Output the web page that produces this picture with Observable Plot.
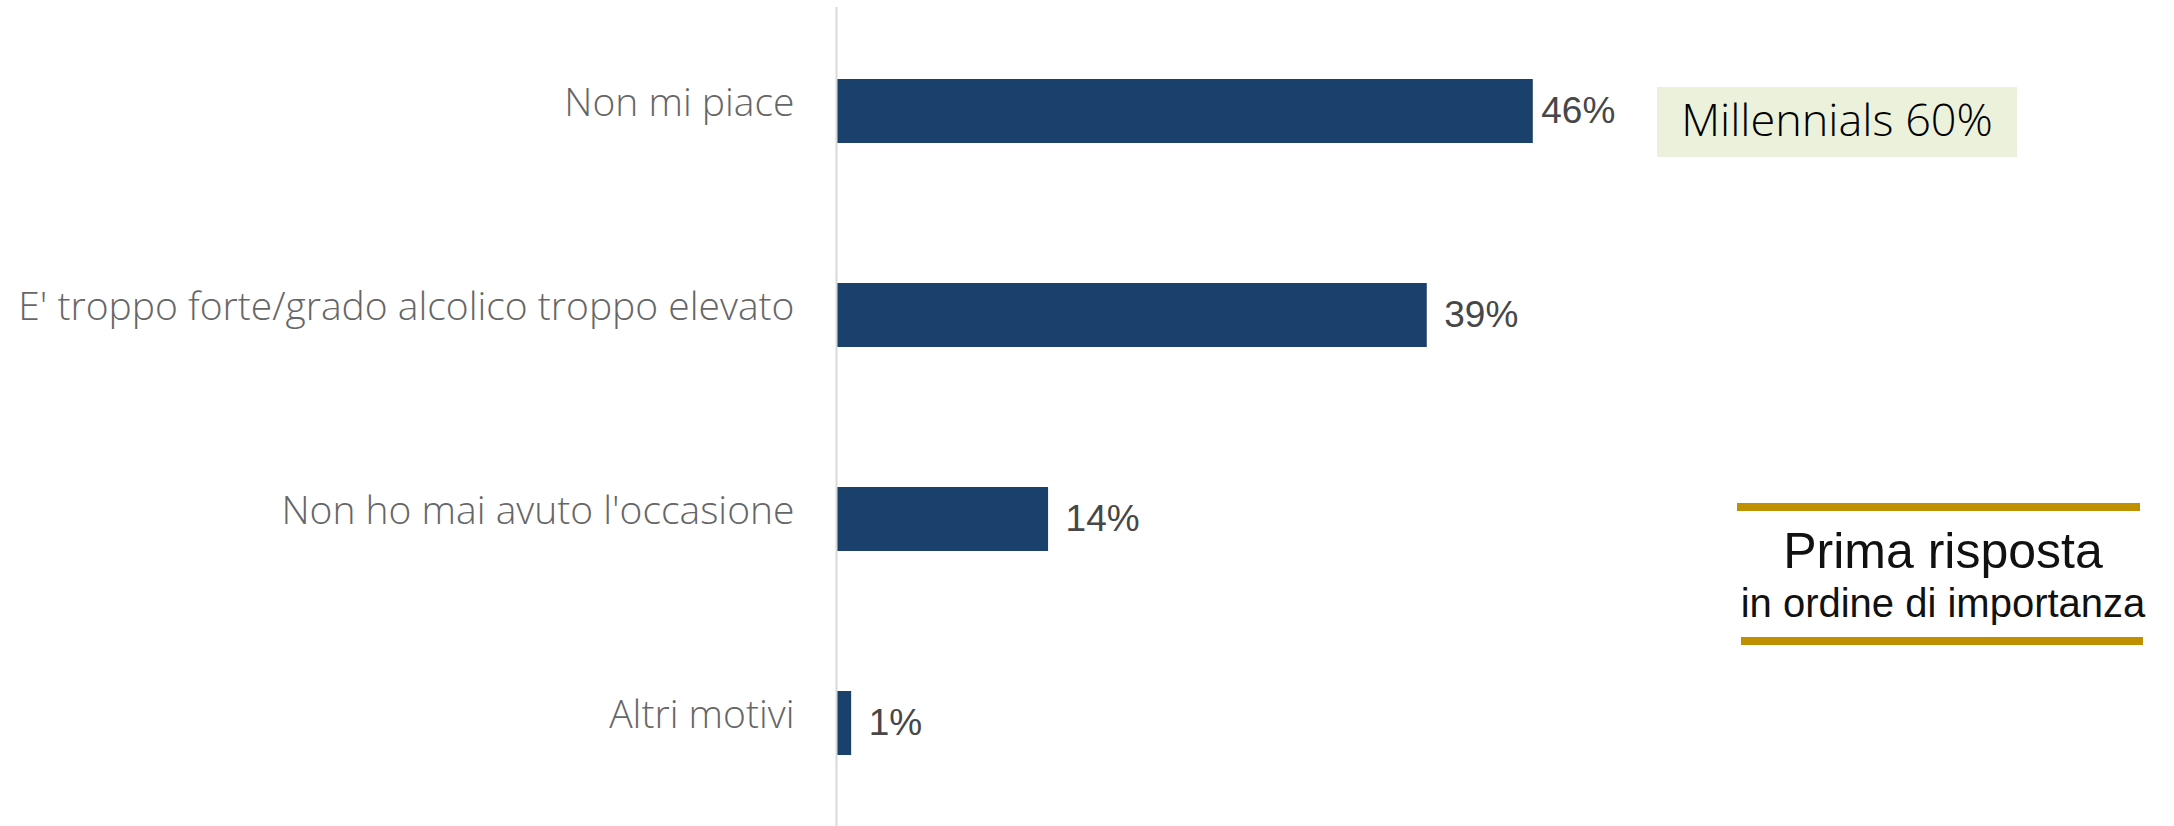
<!DOCTYPE html>
<html>
<head>
<meta charset="utf-8">
<script src="https://cdn.jsdelivr.net/npm/d3@7"></script>
<script src="https://cdn.jsdelivr.net/npm/@observablehq/plot@0.6"></script>
<style>
  html, body { margin: 0; padding: 0; background: #fff; overflow: hidden; }
  #wrap { position: relative; width: 2174px; height: 826px; font-family: "Open Sans", "Liberation Sans", Arial, sans-serif; font-weight: 300; }
  .abs { position: absolute; line-height: 1; white-space: nowrap; }
</style>
</head>
<body>
<div id="wrap"></div>
<script>
const categories = ["Non mi piace", "E' troppo forte/grado alcolico troppo elevato", "Non ho mai avuto l'occasione", "Altri motivi"];
const values = [46, 39, 14, 1];
const valueLabels = ["46%", "39%", "14%", "1%"];
const noteMillennials = "Millennials 60%";
const noteTitle = "Prima risposta";
const noteSubtitle = "in ordine di importanza";

const data = categories.map((c, i) => ({category: c, value: values[i], label: valueLabels[i], i}));

const chart = Plot.plot({
  width: 2174,
  height: 826,
  marginLeft: 836,
  marginRight: 5,
  marginTop: 7,
  marginBottom: 0,
  style: {fontFamily: "'Liberation Sans', Arial, sans-serif", fontWeight: 400, background: "#fff"},
  x: {domain: [0, 88], axis: null},
  y: {domain: categories, axis: null, paddingInner: 0.688, paddingOuter: 0.344},
  marks: [
    Plot.barX(data, {x: "value", y: "category", fill: "#1A406C"}),
    Plot.ruleX([0], {stroke: "#D9D9D9", strokeWidth: 2}),
    Plot.text(data, {x: 0, y: "category", text: "category", textAnchor: "end", dx: -42, dy: -8, fontSize: 39, fill: "#666666", fontFamily: "'Open Sans', 'Liberation Sans', sans-serif", fontWeight: 300}),
    Plot.text(data.filter(d => d.i === 0), {x: "value", y: "category", text: "label", textAnchor: "start", dx: 8, fontSize: 37, fill: "#474747", fontWeight: 400}),
    Plot.text(data.filter(d => d.i !== 0), {x: "value", y: "category", text: "label", textAnchor: "start", dx: 17, fontSize: 37, fill: "#474747", fontWeight: 400})
  ]
});

const wrap = document.getElementById("wrap");
chart.style.position = "absolute";
chart.style.left = "0px";
chart.style.top = "0px";
wrap.appendChild(chart);

function add(text, css) {
  const d = document.createElement("div");
  d.className = "abs";
  d.textContent = text;
  Object.assign(d.style, css);
  wrap.appendChild(d);
  return d;
}
// Millennials box
add("", {left: "1657px", top: "87px", width: "360px", height: "70px", background: "#EBF1DA"});
add(noteMillennials, {left: "1587px", top: "96px", width: "500px", textAlign: "center", fontSize: "45px", color: "#000"});
// Prima risposta note
add("", {left: "1737px", top: "503px", width: "403px", height: "8px", background: "#BF9000"});
add("", {left: "1741px", top: "637px", width: "402px", height: "8px", background: "#BF9000"});
add(noteTitle, {left: "1693px", top: "525.5px", width: "500px", textAlign: "center", fontFamily: "'Liberation Sans', Arial, sans-serif", fontWeight: 400, fontSize: "50px", color: "#111"});
add(noteSubtitle, {left: "1693px", top: "582.5px", width: "500px", textAlign: "center", fontFamily: "'Liberation Sans', Arial, sans-serif", fontWeight: 400, fontSize: "40px", color: "#111"});
</script>
</body>
</html>
